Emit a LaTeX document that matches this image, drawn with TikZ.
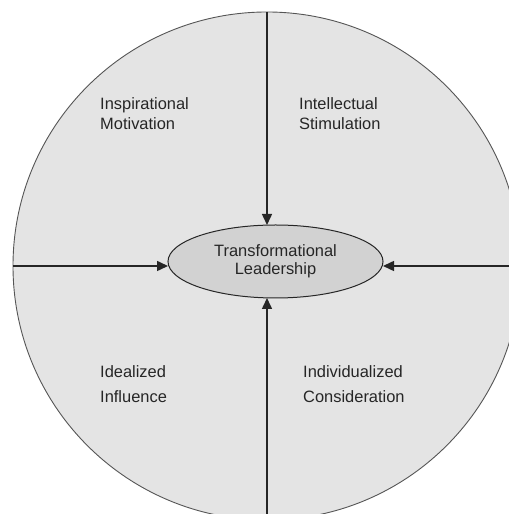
\documentclass[tikz,border=0pt]{standalone}
\usepackage{fontspec}
\setmainfont{Liberation Sans}
\usetikzlibrary{arrows.meta,shapes.geometric}
\definecolor{ringgray}{HTML}{E4E4E4}
\definecolor{coregray}{HTML}{D2D2D2}
\definecolor{inkgray}{HTML}{262626}
\definecolor{rimgray}{HTML}{555555}
\tikzset{
  >={Triangle[length=11bp,width=10bp]},
  % kreis und kern
  ring/.style={circle,draw=rimgray,fill=ringgray,line width=0.9bp,inner sep=0pt,
               outer sep=0pt,minimum size=508bp},
  core/.style={ellipse,draw=inkgray,fill=coregray,line width=1bp,inner sep=0pt,
               outer sep=0pt,minimum width=215bp,minimum height=73bp,align=center,
               text=inkgray,font=\fontsize{16.5}{18}\selectfont},
  pull/.style={->,draw=inkgray,line width=1.5bp},
  lbl/.style={anchor=north west,align=left,inner sep=0pt,text=inkgray,
              font=\fontsize{16.5}{20}\selectfont},
}
\begin{document}
\begin{tikzpicture}[x=1bp,y=1bp]
\useasboundingbox (0,0) rectangle (509,514);
\clip (0,0) rectangle (509,514);
  \node[ring] (ring) at (267,248) {};
  \node[core] (core) at (275.5,252.5) {Transformational\\Leadership};
  \node[lbl] (insp) at (100,417) {Inspirational\\Motivation};
  \node[lbl] (intel) at (299,417) {Intellectual\\Stimulation};
  \node[lbl] (ideal) at (100,149) {Idealized\\[5pt]Influence};
  \node[lbl] (indiv) at (303,149) {Individualized\\[5pt]Consideration};
  \draw[pull] (ring.north) -- (ring.north |- core.north);
  \draw[pull] (ring.south) -- (ring.south |- core.south);
  \draw[pull] (ring.west) -- (ring.west -| core.west);
  \draw[pull] (ring.east) -- (ring.east -| core.east);
\end{tikzpicture}
\end{document}
